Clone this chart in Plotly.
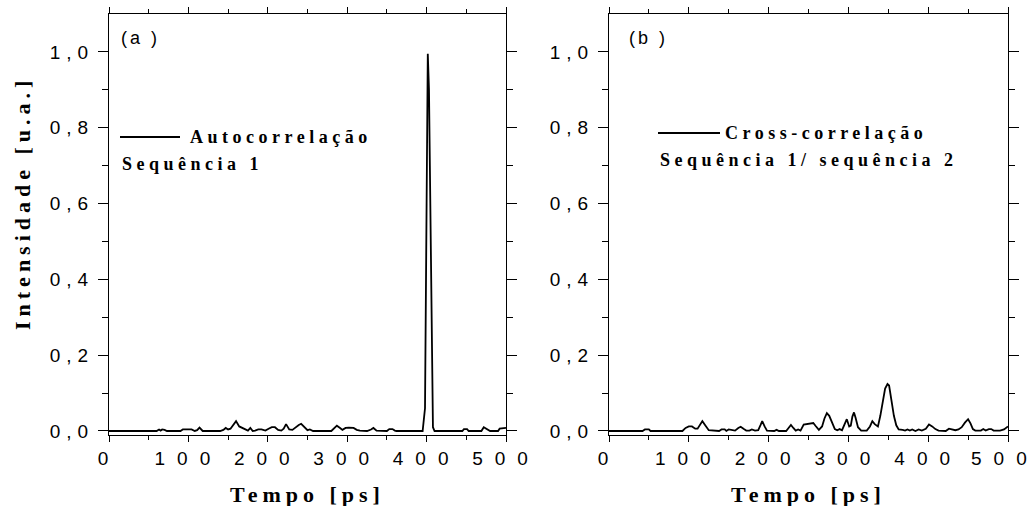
import plotly.graph_objects as go

W, H = 1029, 506

# ---- data ----
time_a = [0, 60, 63, 65, 67, 70, 73, 90, 93, 100, 104, 108, 111, 114, 118, 140, 144, 147, 150, 153,
          157, 160, 164, 168, 172, 175, 178, 181, 184, 188, 192, 197, 201, 205, 209, 213, 217, 220,
          223, 227, 231, 235, 239, 242, 246, 250, 253, 257, 280, 284, 287, 291, 294, 298, 302, 308,
          312, 316, 325, 330, 333, 337, 350, 353, 357, 360, 362, 395, 398, 400, 401.5, 403, 405,
          407, 408, 410, 445, 447, 451, 453, 469, 472, 476, 480, 490, 492, 500]
int_a = [0, 0, 0.004, 0.001, 0.004, 0.003, 0, 0, 0.004, 0.004, 0.004, 0, 0.002, 0.009, 0, 0, 0.003,
         0.008, 0.004, 0.006, 0.016, 0.026, 0.012, 0.008, 0.002, 0.001, 0.008, 0, 0.001, 0.004,
         0.004, 0.001, 0.006, 0.01, 0.01, 0.003, 0.001, 0.006, 0.018, 0.004, 0.003, 0.01, 0.016,
         0.019, 0.01, 0.002, 0.004, 0, 0, 0.008, 0.014, 0.008, 0.003, 0.008, 0.009, 0.008, 0.003,
         0.001, 0, 0.004, 0.008, 0.001, 0, 0.005, 0.005, 0.001, 0, 0, 0.06, 0.6, 0.995, 0.9, 0.5,
         0.1, 0.01, 0, 0, 0.005, 0.005, 0, 0, 0.01, 0.004, 0, 0, 0.006, 0.008]

time_b = [0, 42, 45, 50, 52, 92, 96, 100, 104, 108, 111, 114, 117, 121, 125, 138, 141, 145, 147, 150,
          154, 158, 162, 165, 169, 172, 176, 179, 183, 187, 190, 192, 195, 198, 207, 210, 213, 222,
          225, 228, 231, 234, 237, 240, 244, 248, 252, 256, 259, 263, 267, 270, 273, 276, 280, 283,
          286, 289, 292, 295, 298, 301, 303, 305, 307, 309, 312, 316, 323, 327, 330, 333, 337, 340,
          343, 346, 349, 351, 354, 357, 360, 363, 368, 371, 374, 377, 380, 384, 388, 392, 397, 401,
          405, 409, 413, 422, 426, 430, 434, 438, 442, 446, 450, 453, 456, 459, 466, 469, 472, 476,
          479, 482, 490, 495, 500]
int_b = [0, 0, 0.004, 0.004, 0, 0, 0.008, 0.012, 0.012, 0.006, 0.006, 0.018, 0.026, 0.014, 0.002, 0,
         0.004, 0.004, 0, 0.004, 0.003, 0.001, 0.008, 0.011, 0.005, 0.001, 0.001, 0.004, 0.001,
         0.002, 0.016, 0.026, 0.012, 0.001, 0, 0.003, 0, 0, 0.008, 0.016, 0.008, 0.001, 0.004,
         0.001, 0.017, 0.018, 0.02, 0.021, 0.013, 0.003, 0.012, 0.033, 0.047, 0.04, 0.02, 0.005,
         0.002, 0.005, 0.002, 0.018, 0.031, 0.012, 0.014, 0.038, 0.049, 0.035, 0.01, 0.001, 0.001,
         0.012, 0.026, 0.018, 0.012, 0.04, 0.08, 0.112, 0.124, 0.12, 0.08, 0.04, 0.015, 0.004,
         0.003, 0.001, 0.004, 0.001, 0.004, 0, 0.004, 0.001, 0.006, 0.017, 0.012, 0.005, 0.001, 0,
         0.006, 0.003, 0.002, 0.004, 0.01, 0.022, 0.031, 0.02, 0.005, 0.001, 0.001, 0.005, 0.001,
         0.005, 0.005, 0.001, 0.001, 0.004, 0.012]

x_tick_vals = [0, 100, 200, 300, 400, 500]
x_tick_labels = ["0", "100", "200", "300", "400", "500"]
y_tick_vals = [0.0, 0.2, 0.4, 0.6, 0.8, 1.0]
y_tick_labels = ["0,0", "0,2", "0,4", "0,6", "0,8", "1,0"]

legend_a = ["Autocorrelação", "Sequência 1"]
legend_b = ["Cross-correlação", "Sequência 1/ sequência 2"]
panel_labels = ["(a )", "(b )"]
x_title = "Tempo [ps]"
y_title = "Intensidade [u.a.]"


def sp(s, ls):
    return f'<span style="letter-spacing:{ls}px">{s}</span>'


def sp_inner(s, ls):
    # letter spacing between characters, none after the last one
    return f'<span style="letter-spacing:{ls}px">{s[:-1]}</span>{s[-1]}'


SANS = "Liberation Sans, Arial, sans-serif"
SERIF = "Liberation Serif, Times New Roman, serif"

fig = go.Figure()
fig.add_trace(go.Scatter(x=time_a, y=int_a, mode="lines", line=dict(color="black", width=1.8),
                         xaxis="x", yaxis="y", showlegend=False, name=legend_a[0]))
fig.add_trace(go.Scatter(x=time_b, y=int_b, mode="lines", line=dict(color="black", width=1.8),
                         xaxis="x2", yaxis="y2", showlegend=False, name=legend_b[0]))

ydom = [1 - 435 / H, 1 - 14 / H]
xdomA = [109 / W, 506 / W]
xdomB = [609 / W, 1008 / W]

TICKFONT = dict(family=SANS, size=19, color="black")
common_x = dict(range=[0, 500], tickvals=x_tick_vals, automargin=False,
                ticklabeloverflow="allow",
                ticks="outside", ticklen=6, tickwidth=1, tickcolor="black",
                minor=dict(tickvals=[50, 150, 250, 350, 450], ticks="outside", ticklen=4,
                           tickcolor="black", tickwidth=1),
                showline=True, linecolor="black", linewidth=1, mirror="ticks",
                showgrid=False, zeroline=False, tickfont=TICKFONT)
common_y = dict(range=[-0.0106, 1.1], domain=ydom, tickvals=y_tick_vals, automargin=False,
                ticktext=[sp(t, 6) for t in y_tick_labels],
                ticks="outside", ticklen=10, tickwidth=1, tickcolor="black",
                minor=dict(tickvals=[0.1, 0.3, 0.5, 0.7, 0.9], ticks="outside", ticklen=6,
                           tickcolor="black", tickwidth=1),
                showline=True, linecolor="black", linewidth=1, mirror="ticks",
                showgrid=False, zeroline=False, tickfont=TICKFONT)

ticktext_a = [sp(t, 12) for t in x_tick_labels]
# last label of the right panel is drawn as an annotation so it stays inside the page
ticktext_b = [sp(t, 12) for t in x_tick_labels[:-1]] + [""]

fig.update_layout(
    width=W, height=H, autosize=False,
    margin=dict(l=0, r=0, t=0, b=0, autoexpand=False),
    paper_bgcolor="white", plot_bgcolor="white",
    xaxis=dict(domain=xdomA, anchor="y", ticktext=ticktext_a, **common_x),
    yaxis=dict(anchor="x", **common_y),
    xaxis2=dict(domain=xdomB, anchor="y2", ticktext=ticktext_b, **common_x),
    yaxis2=dict(anchor="x2", **common_y),
)

ann = []
ann.append(dict(text=sp_inner(x_tick_labels[-1], 12), x=1028 / W, y=1 - 458 / H,
                xref="paper", yref="paper", showarrow=False, xanchor="right", yanchor="middle",
                borderpad=0, font=TICKFONT))
# axis titles
for dom in (xdomA, xdomB):
    ann.append(dict(text=sp(f"<b>{x_title}</b>", 5), x=(dom[0] + dom[1]) / 2, y=1 - 494 / H,
                    xref="paper", yref="paper", showarrow=False, xanchor="center", yanchor="middle",
                    font=dict(family=SERIF, size=22, color="black")))
ann.append(dict(text=sp(f"<b>{y_title}</b>", 5), x=22 / W, y=1 - 203 / H, textangle=-90,
                xref="paper", yref="paper", showarrow=False, xanchor="center", yanchor="middle",
                font=dict(family=SERIF, size=22, color="black")))
# panel labels
ann.append(dict(text=sp(panel_labels[0], 3), x=119 / W, y=1 - 38 / H, xref="paper", yref="paper",
                showarrow=False, xanchor="left", yanchor="middle",
                font=dict(family=SANS, size=18, color="black")))
ann.append(dict(text=sp(panel_labels[1], 3), x=627 / W, y=1 - 38 / H, xref="paper", yref="paper",
                showarrow=False, xanchor="left", yanchor="middle",
                font=dict(family=SANS, size=18, color="black")))
# legends
ann.append(dict(text=sp(f"<b>{legend_a[0]}</b>", 4.5), x=188 / W, y=1 - 137 / H, xref="paper",
                yref="paper", showarrow=False, xanchor="left", yanchor="middle",
                font=dict(family=SERIF, size=18, color="black")))
ann.append(dict(text=sp(f"<b>{legend_a[1]}</b>", 4.5), x=120 / W, y=1 - 164 / H, xref="paper",
                yref="paper", showarrow=False, xanchor="left", yanchor="middle",
                font=dict(family=SERIF, size=18, color="black")))
ann.append(dict(text=sp(f"<b>{legend_b[0]}</b>", 4.5), x=723 / W, y=1 - 133 / H, xref="paper",
                yref="paper", showarrow=False, xanchor="left", yanchor="middle",
                font=dict(family=SERIF, size=18, color="black")))
ann.append(dict(text=sp(f"<b>{legend_b[1]}</b>", 4.5), x=658 / W, y=1 - 160 / H, xref="paper",
                yref="paper", showarrow=False, xanchor="left", yanchor="middle",
                font=dict(family=SERIF, size=18, color="black")))
fig.update_layout(annotations=ann)

fig.update_layout(shapes=[
    dict(type="line", xref="paper", yref="paper", x0=120 / W, x1=180 / W, y0=1 - 137 / H,
         y1=1 - 137 / H, line=dict(color="black", width=1.8)),
    dict(type="line", xref="paper", yref="paper", x0=658 / W, x1=720 / W, y0=1 - 133 / H,
         y1=1 - 133 / H, line=dict(color="black", width=1.8)),
])

fig.write_html("out.html")
